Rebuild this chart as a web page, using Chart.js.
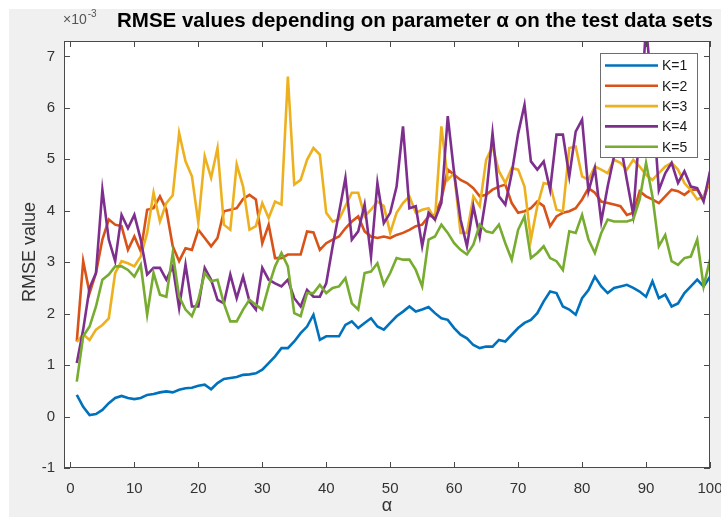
<!DOCTYPE html>
<html lang="en">
<head>
<meta charset="UTF-8">
<title>RMSE values depending on parameter α</title>
<script src="https://cdn.jsdelivr.net/npm/chart.js"></script>
<style>
  html, body { margin: 0; padding: 0; background: #f0f0f0; }
  #wrap { width: 721px; height: 517px; }
</style>
</head>
<body>
<div id="wrap"><canvas id="rmseChart" width="721" height="517"></canvas></div>
<script>
// alpha values (x axis)
const alphas = [
  1, 2, 3, 4, 5, 6, 7, 8, 9, 10, 11, 12, 13, 14, 15, 16, 17, 18, 19, 20,
  21, 22, 23, 24, 25, 26, 27, 28, 29, 30, 31, 32, 33, 34, 35, 36, 37, 38, 39, 40,
  41, 42, 43, 44, 45, 46, 47, 48, 49, 50, 51, 52, 53, 54, 55, 56, 57, 58, 59, 60,
  61, 62, 63, 64, 65, 66, 67, 68, 69, 70, 71, 72, 73, 74, 75, 76, 77, 78, 79, 80,
  81, 82, 83, 84, 85, 86, 87, 88, 89, 90, 91, 92, 93, 94, 95, 96, 97, 98, 99, 100
];

// RMSE values, x 10^-3
const rmseK1 = [
  0.42, 0.19, 0.03, 0.05, 0.13, 0.26, 0.36, 0.40, 0.36, 0.34, 0.36, 0.42, 0.44, 0.47, 0.49, 0.47, 0.52, 0.55, 0.56, 0.60,
  0.62, 0.53, 0.65, 0.73, 0.75, 0.77, 0.81, 0.82, 0.84, 0.91, 1.04, 1.17, 1.33, 1.33, 1.46, 1.62, 1.75, 1.98, 1.49, 1.56,
  1.56, 1.56, 1.78, 1.85, 1.72, 1.82, 1.91, 1.75, 1.69, 1.82, 1.95, 2.04, 2.14, 2.04, 2.08, 2.13, 2.01, 1.91, 1.88, 1.72,
  1.59, 1.52, 1.39, 1.33, 1.36, 1.36, 1.49, 1.46, 1.59, 1.72, 1.82, 1.88, 2.01, 2.24, 2.43, 2.40, 2.14, 2.08, 1.98, 2.30,
  2.46, 2.72, 2.53, 2.40, 2.50, 2.53, 2.56, 2.50, 2.43, 2.33, 2.63, 2.30, 2.37, 2.14, 2.20, 2.40, 2.53, 2.66, 2.53, 2.72
];
const rmseK2 = [
  1.46, 3.02, 2.40, 2.79, 3.44, 3.83, 3.73, 3.70, 3.24, 3.50, 3.21, 4.02, 4.05, 4.28, 4.02, 3.31, 3.02, 3.27, 3.24, 3.63,
  3.47, 3.31, 3.47, 3.99, 4.02, 4.05, 4.23, 4.31, 4.22, 3.37, 3.73, 3.08, 3.08, 3.15, 3.15, 3.15, 3.60, 3.58, 3.24, 3.37,
  3.44, 3.50, 3.66, 3.79, 3.89, 3.60, 3.50, 3.47, 3.50, 3.47, 3.53, 3.57, 3.63, 3.70, 3.73, 3.89, 3.92, 4.22, 4.80, 4.70,
  4.60, 4.54, 4.44, 4.28, 4.31, 4.41, 4.47, 4.51, 4.15, 3.96, 3.99, 4.05, 4.18, 4.09, 3.70, 3.89, 3.96, 3.99, 4.05, 4.22,
  4.44, 4.35, 4.18, 4.15, 4.12, 4.09, 3.92, 3.96, 4.38, 4.28, 4.22, 4.15, 4.28, 4.41, 4.38, 4.31, 4.41, 4.41, 4.22, 4.60
];
const rmseK3 = [
  1.45, 1.60, 1.49, 1.69, 1.78, 1.91, 2.79, 3.02, 2.98, 2.92, 3.11, 3.57, 4.35, 3.79, 4.15, 4.30, 5.51, 4.96, 4.67, 3.77,
  5.06, 4.64, 5.22, 3.73, 3.63, 4.90, 4.47, 3.63, 3.70, 4.15, 3.86, 4.18, 4.12, 6.61, 4.51, 4.60, 4.99, 5.22, 5.09, 3.96,
  3.79, 3.83, 4.09, 4.35, 4.35, 3.89, 4.02, 4.18, 4.09, 3.57, 3.96, 4.15, 4.28, 3.96, 4.02, 4.05, 3.83, 5.64, 4.60, 4.73,
  3.57, 3.57, 4.28, 4.09, 4.99, 5.25, 4.77, 4.54, 4.83, 4.80, 4.47, 3.44, 4.09, 4.54, 4.51, 4.02, 3.99, 5.22, 5.25, 4.67,
  4.60, 4.86, 4.80, 4.73, 4.99, 4.93, 4.80, 4.99, 4.86, 4.70, 4.60, 4.73, 4.86, 4.93, 4.80, 4.54, 4.40, 4.22, 4.28, 4.60
];
const rmseK4 = [
  1.04, 1.69, 2.50, 2.79, 4.41, 3.44, 3.02, 3.92, 3.66, 3.92, 3.44, 2.76, 2.89, 2.89, 2.66, 2.92, 2.11, 2.95, 2.14, 2.14,
  2.89, 2.66, 2.27, 2.20, 2.76, 2.30, 2.72, 2.24, 2.08, 2.89, 2.66, 2.59, 2.53, 2.66, 2.30, 2.14, 2.46, 2.33, 2.33, 2.59,
  3.31, 3.96, 4.64, 3.44, 3.60, 4.12, 3.11, 4.54, 3.76, 3.96, 4.47, 5.64, 4.05, 4.09, 3.31, 3.96, 3.83, 4.15, 5.84, 4.73,
  3.83, 3.31, 4.09, 3.50, 4.28, 5.51, 4.28, 4.12, 4.73, 5.50, 6.06, 4.96, 4.80, 4.96, 4.41, 5.48, 5.48, 4.67, 5.54, 5.77,
  4.38, 4.83, 3.79, 4.47, 5.06, 5.30, 4.60, 3.92, 5.60, 7.60, 6.20, 4.40, 4.73, 4.93, 4.54, 4.77, 4.47, 4.44, 4.18, 4.77
];
const rmseK5 = [
  0.68, 1.56, 1.75, 2.14, 2.66, 2.76, 2.92, 2.92, 2.85, 2.72, 2.95, 1.98, 2.79, 2.37, 2.33, 3.18, 2.33, 2.08, 1.95, 2.27,
  2.79, 2.63, 2.66, 2.20, 1.85, 1.85, 2.08, 2.27, 2.17, 2.08, 2.53, 2.92, 3.18, 2.92, 2.01, 1.95, 2.40, 2.40, 2.56, 2.40,
  2.50, 2.53, 2.69, 2.20, 2.08, 2.79, 2.82, 2.98, 2.56, 2.79, 3.08, 3.05, 3.05, 2.85, 2.53, 3.44, 3.50, 3.73, 3.57, 3.37,
  3.24, 3.15, 3.34, 3.73, 3.60, 3.57, 3.73, 3.37, 3.05, 3.63, 3.89, 3.08, 3.18, 3.31, 3.08, 3.02, 2.85, 3.60, 3.57, 3.92,
  3.44, 3.18, 3.57, 3.83, 3.79, 3.79, 3.79, 3.83, 4.22, 4.93, 4.28, 3.31, 3.53, 3.02, 2.95, 3.08, 3.11, 3.44, 2.53, 3.05
];

const seriesLabels = ['K=1', 'K=2', 'K=3', 'K=4', 'K=5'];
const seriesColors = ['#0072BD', '#D95319', '#EDB120', '#7E2F8E', '#77AC30'];
const xTicks = [0, 10, 20, 30, 40, 50, 60, 70, 80, 90, 100];
const yTicks = [-1, 0, 1, 2, 3, 4, 5, 6, 7];

const FONT = '"Liberation Sans", Arial, Helvetica, sans-serif';
const AXIS_COLOR = '#4a4a4a';
const TEXT_COLOR = '#333333';

const allSeries = [rmseK1, rmseK2, rmseK3, rmseK4, rmseK5];

// MATLAB style frame: grey figure, inward ticks, box, legend and labels
const matlabFrame = {
  id: 'matlabFrame',
  beforeDraw(chart) {
    const { ctx, chartArea: a } = chart;
    ctx.save();
    ctx.fillStyle = '#f0f0f0';
    ctx.fillRect(0, 0, chart.width, chart.height);
    ctx.fillStyle = '#ffffff';
    ctx.fillRect(0, 0, chart.width, 9);
    ctx.fillRect(0, 0, 9, chart.height);
    ctx.fillRect(a.left, a.top, a.right - a.left, a.bottom - a.top);
    ctx.restore();
  },
  afterDatasetsDraw(chart) {
    const { ctx, chartArea: a, scales } = chart;
    ctx.save();
    ctx.strokeStyle = AXIS_COLOR;
    ctx.lineWidth = 1;
    ctx.strokeRect(a.left + 0.5, a.top + 0.5, a.right - a.left - 1, a.bottom - a.top - 1);

    // ticks pointing inwards on all four sides
    ctx.beginPath();
    xTicks.forEach(v => {
      const px = Math.round(scales.x.getPixelForValue(v)) + 0.5;
      ctx.moveTo(px, a.bottom); ctx.lineTo(px, a.bottom - 6);
      ctx.moveTo(px, a.top); ctx.lineTo(px, a.top + 6);
    });
    yTicks.forEach(v => {
      const py = Math.round(scales.y.getPixelForValue(v)) + 0.5;
      ctx.moveTo(a.left, py); ctx.lineTo(a.left + 6, py);
      ctx.moveTo(a.right, py); ctx.lineTo(a.right - 6, py);
    });
    ctx.stroke();

    // legend box (north east)
    const bx = 600, by = 53, bw = 97, bh = 104;
    ctx.fillStyle = '#ffffff';
    ctx.fillRect(bx, by, bw, bh);
    ctx.strokeStyle = '#6e6e6e';
    ctx.strokeRect(bx + 0.5, by + 0.5, bw, bh);
    ctx.font = '14px ' + FONT;
    ctx.textBaseline = 'middle';
    ctx.textAlign = 'left';
    chart.data.datasets.forEach((ds, i) => {
      const ry = by + 12.5 + i * 20.3;
      ctx.strokeStyle = ds.borderColor;
      ctx.lineWidth = 2.6;
      ctx.beginPath();
      ctx.moveTo(bx + 5, ry); ctx.lineTo(bx + 58, ry);
      ctx.stroke();
      ctx.fillStyle = '#1a1a1a';
      ctx.fillText(ds.label, bx + 62, ry + 1);
    });
    ctx.restore();
  },
  afterDraw(chart) {
    const { ctx, chartArea: a } = chart;
    ctx.save();
    // exponent
    ctx.fillStyle = '#555555';
    ctx.textBaseline = 'alphabetic';
    ctx.textAlign = 'left';
    ctx.font = '14px ' + FONT;
    ctx.fillText('\u00d710', 63, 24);
    const w = ctx.measureText('\u00d710').width;
    ctx.font = '10px ' + FONT;
    ctx.fillText('-3', 63 + w + 1, 17);

    // title
    ctx.fillStyle = '#000000';
    ctx.font = 'bold 20.5px ' + FONT;
    ctx.fillText('RMSE values depending on parameter \u03b1 on the test data sets', 117, 27);

    // axis labels
    ctx.fillStyle = TEXT_COLOR;
    ctx.font = '18px ' + FONT;
    ctx.textAlign = 'center';
    ctx.textBaseline = 'middle';
    ctx.fillText('\u03b1', (a.left + a.right) / 2, 506);
    ctx.translate(30, 252);
    ctx.rotate(-Math.PI / 2);
    ctx.fillText('RMSE value', 0, 0);
    ctx.restore();
  }
};

const ctx = document.getElementById('rmseChart').getContext('2d');
const rmseChart = new Chart(ctx, {
  type: 'line',
  data: {
    datasets: allSeries.map((vals, i) => ({
      label: seriesLabels[i],
      data: vals.map((v, j) => ({ x: alphas[j], y: v })),
      borderColor: seriesColors[i],
      backgroundColor: seriesColors[i],
      borderWidth: 2.6,
      pointRadius: 0,
      tension: 0,
      fill: false,
      order: allSeries.length - i
    }))
  },
  options: {
    responsive: false,
    animation: false,
    layout: { padding: { top: 41, right: 11, bottom: 0, left: 0 } },
    plugins: {
      legend: { display: false },
      title: { display: false },
      tooltip: { enabled: false }
    },
    scales: {
      x: {
        type: 'linear',
        min: -1,
        max: 100,
        afterBuildTicks: s => { s.ticks = xTicks.map(v => ({ value: v })); },
        afterFit: s => { s.height = 49; s.paddingLeft = 0; s.paddingRight = 0; },
        grid: { display: false, drawTicks: false },
        border: { display: false },
        ticks: {
          color: TEXT_COLOR,
          font: { family: FONT, size: 15 },
          padding: 12,
          maxRotation: 0,
          autoSkip: false
        }
      },
      y: {
        type: 'linear',
        min: -1,
        max: 7.3,
        afterBuildTicks: s => { s.ticks = yTicks.map(v => ({ value: v })); },
        afterFit: s => { s.width = 64; s.paddingTop = 0; s.paddingBottom = 0; },
        grid: { display: false, drawTicks: false },
        border: { display: false },
        ticks: {
          color: TEXT_COLOR,
          font: { family: FONT, size: 15 },
          padding: 9
        }
      }
    }
  },
  plugins: [matlabFrame]
});
</script>
</body>
</html>
